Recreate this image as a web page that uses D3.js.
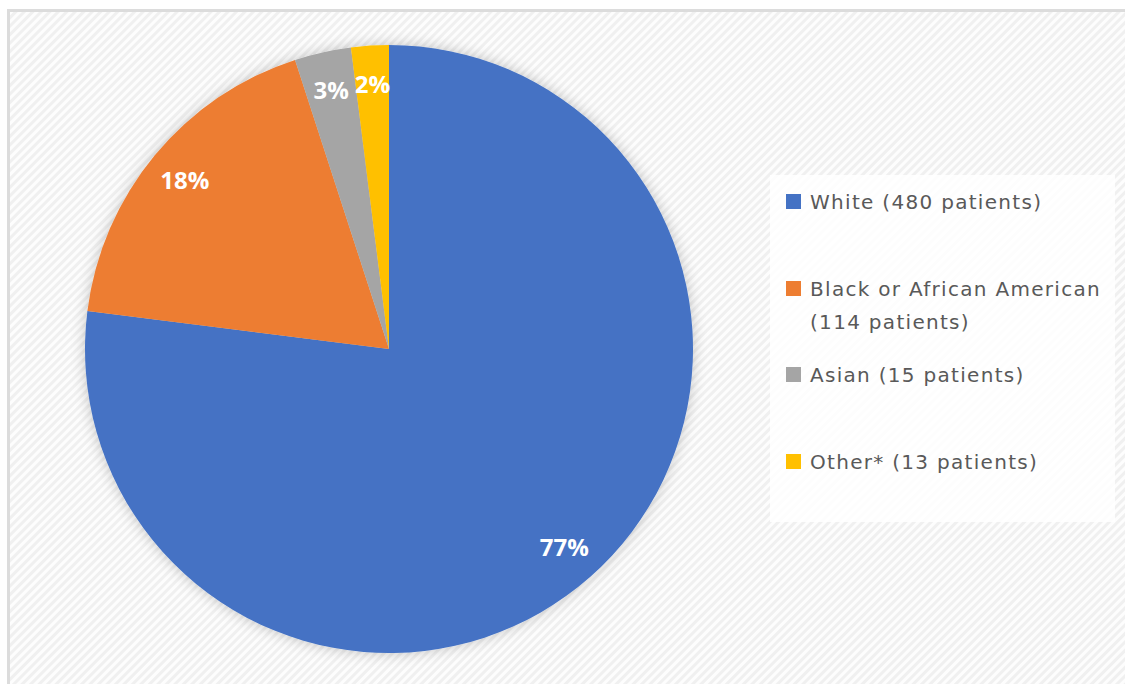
<!DOCTYPE html>
<html>
<head>
<meta charset="utf-8">
<script src="https://cdn.jsdelivr.net/npm/d3@7"></script>
<style>
  body { margin: 0; background: #fff; }
  svg { display: block; font-family: "Open Sans", sans-serif; }
</style>
</head>
<body>
<div id="pie-chart"></div>
<script>
// chart values (slices follow the shown percentages)
const groups = ["White", "Black or African American", "Asian", "Other*"]
const shares = [77, 18, 3, 2]
const pctLabels = ["77%", "18%", "3%", "2%"]
const legendLines = [["White (480 patients)"], ["Black or African American", "(114 patients)"], ["Asian (15 patients)"], ["Other* (13 patients)"]]
const colors = ["#4472c4", "#ed7d31", "#a5a5a5", "#ffc000"]

const drawPie = () => {
    var width = 1125,
        height = 684;
    const cx = 389, cy = 349, radius = 304

    var svg = d3.select("#pie-chart").append("svg")
        .attr("width", width)
        .attr("height", height)

    const defs = svg.append("defs")

    // faint diagonal stripes for the chart area
    const pat = defs.append("pattern")
        .attr("id", "stripes")
        .attr("patternUnits", "userSpaceOnUse")
        .attr("width", 6)
        .attr("height", 6)
        .attr("patternTransform", "rotate(45)")
    pat.append("rect").attr("width", 6).attr("height", 6).attr("fill", "#fdfdfd")
    pat.append("rect").attr("width", 3).attr("height", 6).attr("fill", "#f0f0f0")

    const shadow = defs.append("filter")
        .attr("id", "shadow")
        .attr("x", "-20%").attr("y", "-20%")
        .attr("width", "140%").attr("height", "140%")
    shadow.append("feDropShadow")
        .attr("dx", 0).attr("dy", 0)
        .attr("stdDeviation", 7)
        .attr("flood-color", "#000")
        .attr("flood-opacity", 0.22)

    // chart frame
    svg.append("rect")
        .attr("x", 8.5).attr("y", 10.5)
        .attr("width", width).attr("height", height)
        .attr("fill", "url(#stripes)")
        .attr("stroke", "#dcdcdc")
        .attr("stroke-width", 3)

    const pie = d3.pie().sort(null).value(d => d)
    const arcs = pie(shares)

    const arc = d3.arc().innerRadius(0).outerRadius(radius)
    const labelArc = d3.arc().innerRadius(265).outerRadius(265)

    const g = svg.append("g")
        .attr("transform", `translate(${cx},${cy})`)

    g.append("g")
        .attr("filter", "url(#shadow)")
        .selectAll("path")
        .data(arcs)
        .join("path")
        .attr("d", arc)
        .attr("fill", (d, i) => colors[i])

    g.append("g")
        .selectAll("text")
        .data(arcs)
        .join("text")
        .attr("transform", d => `translate(${labelArc.centroid(d)})`)
        .attr("text-anchor", "middle")
        .attr("dy", "0.36em")
        .attr("fill", "#fff")
        .attr("font-weight", "bold")
        .attr("font-size", "24px")
        .text((d, i) => pctLabels[i])

    // legend
    svg.append("rect")
        .attr("x", 770).attr("y", 175)
        .attr("width", 345).attr("height", 347)
        .attr("fill", "#fff")
        .attr("opacity", 0.85)

    const rowY = [202, 289, 375, 462]
    const legend = svg.append("g")
        .selectAll("g")
        .data(groups)
        .join("g")
        .attr("transform", (d, i) => `translate(786,${rowY[i]})`)

    legend.append("rect")
        .attr("x", 0).attr("y", -8)
        .attr("width", 15).attr("height", 15)
        .attr("fill", (d, i) => colors[i])

    legend.append("text")
        .attr("x", 24)
        .attr("y", 7)
        .attr("fill", "#595959")
        .attr("font-family", "DejaVu Sans, sans-serif")
        .attr("font-size", "20px")
        .attr("letter-spacing", "1.3px")
        .selectAll("tspan")
        .data((d, i) => legendLines[i])
        .join("tspan")
        .attr("x", 24)
        .attr("dy", (d, j) => j ? 33 : 0)
        .text(d => d)
}

drawPie()
</script>
</body>
</html>
